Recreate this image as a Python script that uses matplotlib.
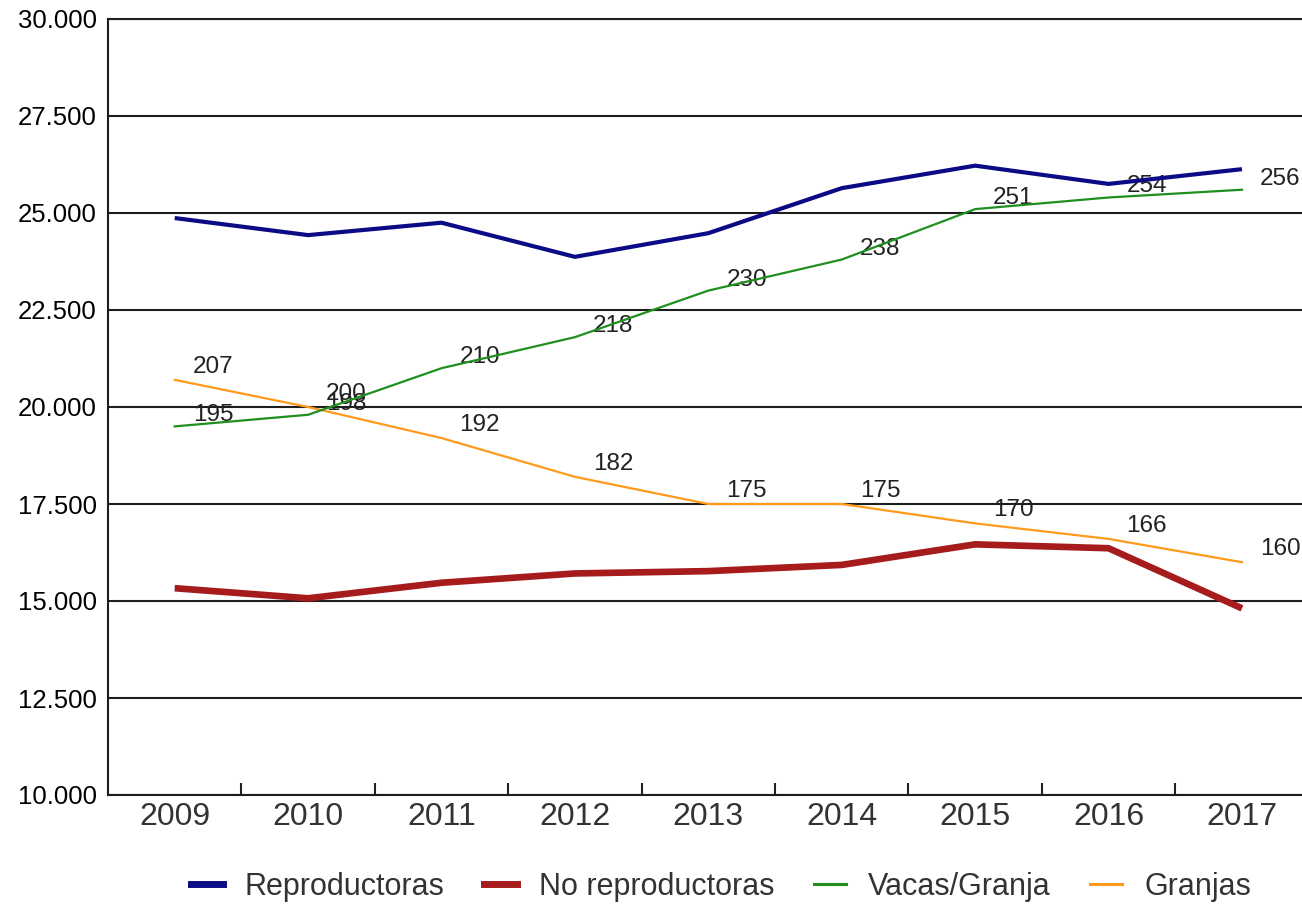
import matplotlib
matplotlib.use("Agg")
import matplotlib.pyplot as plt
from matplotlib.lines import Line2D

years = ['2009', '2010', '2011', '2012', '2013', '2014', '2015', '2016', '2017']
reproductoras = [24870, 24430, 24750, 23870, 24480, 25640, 26220, 25750, 26130]
no_reproductoras = [15330, 15070, 15470, 15710, 15770, 15930, 16460, 16360, 14810]
vacas_granja = [195, 198, 210, 218, 230, 238, 251, 254, 256]
granjas = [207, 200, 192, 182, 175, 175, 170, 166, 160]
y_ticks = [10000, 12500, 15000, 17500, 20000, 22500, 25000, 27500, 30000]
y_tick_labels = ['10.000', '12.500', '15.000', '17.500', '20.000', '22.500', '25.000', '27.500', '30.000']
legend_labels = ['Reproductoras', 'No reproductoras', 'Vacas/Granja', 'Granjas']

c_rep = '#0b0b85'
c_norep = '#a61c1c'
c_vac = '#1f8f1f'
c_gra = '#ff9a1c'

plt.rcParams['font.family'] = ['Liberation Sans', 'DejaVu Sans']

fig = plt.figure(figsize=(13.02, 9.05), dpi=100)
ax = fig.add_axes([108/1302, 110/905, 1194/1302, 776/905])
x = list(range(len(years)))

ax.set_xlim(-0.5, 8.45)
ax.set_ylim(10000, 30000)
ax.set_yticks(y_ticks)
ax.set_yticklabels(y_tick_labels, fontsize=18.5, color='black')
ax.tick_params(axis='y', length=0, pad=8)
ax.set_xticks(x)
ax.set_xticklabels(years, fontsize=23, color='#333333')
ax.tick_params(axis='x', which='major', length=0, pad=5)
ax.set_xticks([i + 0.5 for i in range(len(years))], minor=True)
ax.tick_params(axis='x', which='minor', direction='in', length=9, width=1.5, color='#222222')
ax.grid(axis='y', color='#1e1e1e', lw=1.5)
ax.set_axisbelow(True)
for s in ['left', 'bottom', 'top']:
    ax.spines[s].set_linewidth(1.5)
    ax.spines[s].set_color('#1e1e1e')
ax.spines['right'].set_visible(False)

ax2 = ax.twinx()
ax2.set_ylim(100, 300)
ax2.set_xlim(-0.5, 8.45)
ax2.axis('off')

ax2.plot(x, granjas, color=c_gra, lw=1.6, zorder=4)
ax2.plot(x, vacas_granja, color=c_vac, lw=1.6, zorder=5)
ax2.plot(x, [v / 100 for v in no_reproductoras], color=c_norep, lw=4.8, zorder=6,
         solid_capstyle='butt')
ax2.plot(x, [v / 100 for v in reproductoras], color=c_rep, lw=3, zorder=7, solid_capstyle='butt')

for xi, v in zip(x, vacas_granja):
    ax2.annotate(str(v), (xi, v), xytext=(13, 0), textcoords='offset points',
                 ha='left', va='bottom', fontsize=17.5, color='#222222',
                 zorder=3, annotation_clip=False)
for xi, v in zip(x, granjas):
    ax2.annotate(str(v), (xi, v), xytext=(13, 1.5), textcoords='offset points',
                 ha='left', va='bottom', fontsize=17.5, color='#222222',
                 zorder=3, annotation_clip=False)

handles = [
    Line2D([], [], color=c_rep, lw=5),
    Line2D([], [], color=c_norep, lw=5),
    Line2D([], [], color=c_vac, lw=2.2),
    Line2D([], [], color=c_gra, lw=2.2),
]
leg = fig.legend(handles, legend_labels, loc='center', bbox_to_anchor=(721/1302, 18/905),
                 ncol=4, frameon=False, fontsize=22, handlelength=1.05,
                 handletextpad=0.72, columnspacing=1.3)
for t in leg.get_texts():
    t.set_color('#333333')

fig.savefig('out.png', dpi=100)
